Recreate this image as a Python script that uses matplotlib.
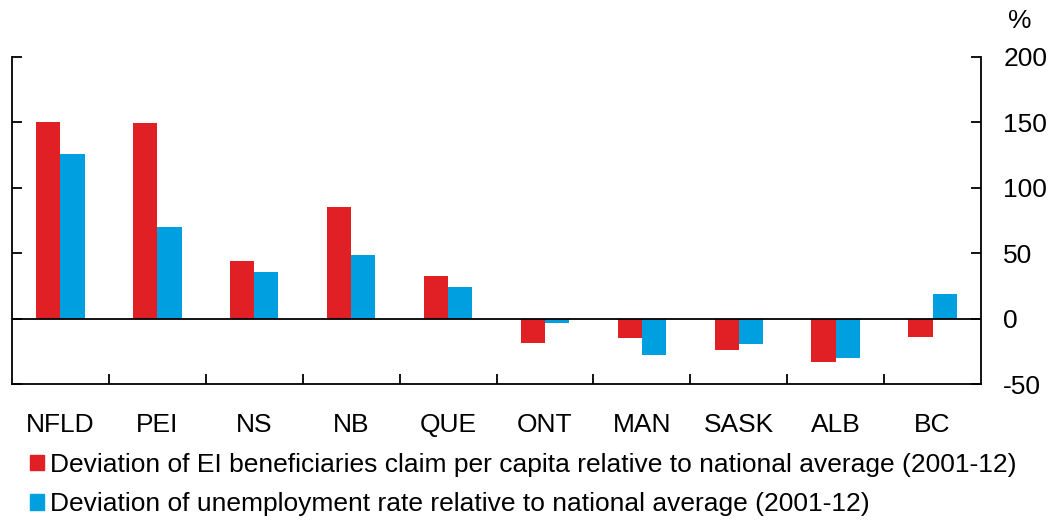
import numpy as np
import matplotlib
matplotlib.use('Agg')
import matplotlib.pyplot as plt
from matplotlib.patches import Patch

plt.rcParams['font.family'] = ['Liberation Sans', 'DejaVu Sans']
plt.rcParams['axes.unicode_minus'] = False

provinces = ["NFLD", "PEI", "NS", "NB", "QUE", "ONT", "MAN", "SASK", "ALB", "BC"]
ei_claims = [150, 149.5, 44, 85, 32.5, -18.5, -14.5, -24, -33, -14]
unemp_rate = [126, 70, 36, 48.5, 24, -3, -28, -19.5, -30.5, 18.5]

lbl_ei = "Deviation of EI beneficiaries claim per capita relative to national average (2001-12)"
lbl_un = "Deviation of unemployment rate relative to national average (2001-12)"
RED = "#E12026"
BLUE = "#009FDF"
FS = 19

fig = plt.figure(figsize=(10.52, 5.21), dpi=100)
ax = fig.add_axes([12/1052, 1 - 384/521, (981 - 12)/1052, (384 - 57)/521])

x = np.arange(len(provinces))
w = 0.25
ax.bar(x - w/2, ei_claims, w, color=RED, edgecolor='none')
ax.bar(x + w/2, unemp_rate, w, color=BLUE, edgecolor='none')
ax.axhline(0, color='black', lw=1.3)

ax.set_xlim(-0.5, len(provinces) - 0.5)
ax.set_ylim(-50, 200)

ax.spines['top'].set_visible(False)
for s in ['left', 'right', 'bottom']:
    ax.spines[s].set_linewidth(1.3)

ax.yaxis.tick_right()
ax.set_yticks([-50, 0, 50, 100, 150, 200])
ax.tick_params(axis='y', which='both', direction='in', length=7, width=1.3,
               left=True, right=True, labelleft=False, labelright=True,
               labelsize=FS, pad=16)

ax.set_xticks(x)
ax.set_xticklabels(provinces)
ax.set_xticks(np.arange(0.5, len(provinces) - 1, 1), minor=True)
ax.tick_params(axis='x', which='major', length=0, labelsize=FS, pad=21)
ax.tick_params(axis='x', which='minor', direction='in', length=7, width=1.3)

fig.text(1020/1052, 1 - 21/521, "%", fontsize=FS, ha='center', va='center')

handles = [Patch(color=RED, label=lbl_ei), Patch(color=BLUE, label=lbl_un)]
fig.legend(handles=handles, loc='upper left', bbox_to_anchor=(30/1052, 1 - 453/521),
           frameon=False, fontsize=FS, handlelength=0.53, handleheight=0.53,
           handletextpad=0.23, labelspacing=0.58, borderpad=0, borderaxespad=0)

fig.savefig("out.png", dpi=100)
